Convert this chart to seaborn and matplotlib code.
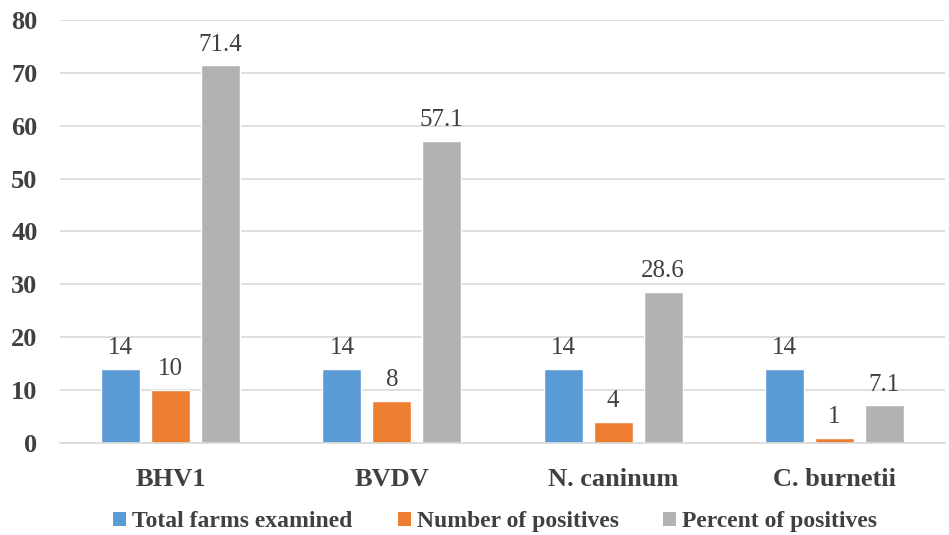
import matplotlib
matplotlib.use("Agg")
import matplotlib.pyplot as plt
import seaborn as sns
import pandas as pd
from matplotlib.patches import Patch

# data
pathogens = ['BHV1', 'BVDV', 'N. caninum', 'C. burnetii']
series = ['Total farms examined', 'Number of positives', 'Percent of positives']
total_farms = [14, 14, 14, 14]
n_positive = [10, 8, 4, 1]
pct_positive = [71.4, 57.1, 28.6, 7.1]
colors = ['#5B9BD5', '#ED7D31', '#B2B2B2']

df = pd.DataFrame({
	'pathogen': pathogens * 3,
	'series': [s for s in series for _ in pathogens],
	'value': total_farms + n_positive + pct_positive,
})

sns.set_style('white')
plt.rcParams['font.family'] = ['Liberation Serif', 'DejaVu Serif']

fig = plt.figure(figsize=(9.49, 5.35), dpi=100)
ax = fig.add_axes([0.063, 0.172, 0.933, 0.7906])

sns.barplot(data=df, x='pathogen', y='value', hue='series', order=pathogens,
	hue_order=series, palette=colors, width=0.676, gap=0.22,
	saturation=1, errorbar=None, legend=False, ax=ax)

for cont in ax.containers:
	ax.bar_label(cont, fmt='%g', padding=7, fontsize=18, color='#404040')

ax.set_ylim(0, 80)
ax.set_yticks(range(0, 81, 10))
ax.set_xlim(-0.5, len(pathogens) - 0.5)
ax.set_xlabel('')
ax.set_ylabel('')
ax.yaxis.grid(True, color='#D9D9D9', linewidth=1.2)
ax.set_axisbelow(True)
for side in ['top', 'right', 'left']:
	ax.spines[side].set_visible(False)
ax.spines['bottom'].set_color('#D9D9D9')
ax.spines['bottom'].set_linewidth(1.2)
ax.tick_params(axis='y', length=0, pad=16, labelsize=19, labelcolor='#404040')
ax.tick_params(axis='x', length=0, pad=18, labelsize=19, labelcolor='#404040')
for lbl in ax.get_xticklabels() + ax.get_yticklabels():
	lbl.set_fontweight('bold')

handles = [Patch(facecolor=c, edgecolor='none') for c in colors]
leg = fig.legend(handles, series, loc='lower center', bbox_to_anchor=(0.522, -0.035),
	ncol=3, frameon=False, handlelength=0.55, handleheight=0.55, handletextpad=0.25,
	columnspacing=1.9, prop={'size': 17, 'weight': 'bold'})
for t in leg.get_texts():
	t.set_color('#404040')

fig.savefig('out.png', dpi=100)
